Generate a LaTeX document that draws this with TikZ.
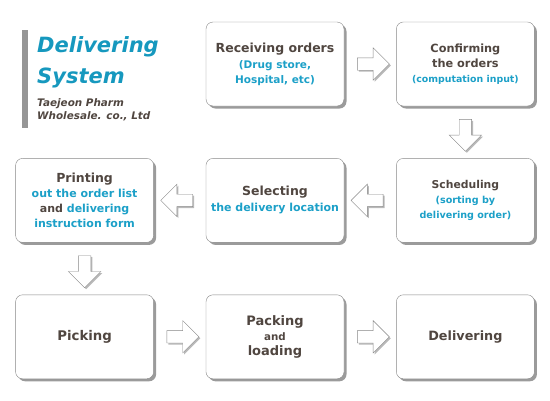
\documentclass[tikz,border=0pt]{standalone}
\usepackage{fontspec}
\setmainfont{DejaVu Sans}
\usetikzlibrary{positioning, calc, shapes.arrows, shadows}

\definecolor{txtbrown}{RGB}{80,70,64}
\definecolor{txtblue}{RGB}{28,160,200}
\definecolor{titleblue}{RGB}{22,152,190}
\definecolor{boxgray}{RGB}{135,135,135}
\definecolor{shadowgray}{RGB}{155,155,155}
\definecolor{bargray}{RGB}{150,150,150}

\newcommand{\bigtxt}{\fontsize{12.5}{15}\selectfont}
\newcommand{\smalltxt}[1]{{\fontsize{10.5}{13}\selectfont\color{txtblue}#1}}

\tikzset{
  stepbox/.style={draw=boxgray, fill=white, rounded corners=7pt,
    minimum width=138pt, minimum height=84pt, align=center,
    text=txtbrown, font=\bfseries\bigtxt,
    drop shadow={shadow xshift=2.5pt, shadow yshift=-2.5pt, fill=shadowgray, opacity=1}},
  blockarr/.style={single arrow, draw=boxgray, fill=white, inner sep=6pt,
    minimum height=32pt, minimum width=32pt, single arrow head extend=10pt,
    drop shadow={shadow xshift=1.5pt, shadow yshift=-1.5pt, fill=shadowgray!70, opacity=1}}
}

\begin{document}
\begin{tikzpicture}[x=1pt, y=-1pt, node distance=52pt]
  \useasboundingbox (0,0) rectangle (550,400);
  % title
  \fill[bargray] (22,30) rectangle (28,128);
  \node[anchor=base west, inner sep=0, text=titleblue,
    font=\fontsize{21}{21}\selectfont\bfseries\itshape] (title1) at (37,52) {Delivering};
  \node[anchor=base west, inner sep=0, text=titleblue,
    font=\fontsize{21}{21}\selectfont\bfseries\itshape] (title2) at (37,83) {System};
  \node[anchor=base west, inner sep=0, text=txtbrown,
    font=\fontsize{10.4}{12}\selectfont\bfseries\itshape] (sub1) at (37,106) {Taejeon Pharm};
  \node[anchor=base west, inner sep=0, text=txtbrown,
    font=\fontsize{10.4}{12}\selectfont\bfseries\itshape] (sub2) at (37,119) {Wholesale. co., Ltd};

  % boxes
  \node[stepbox] (recv) at (275,64) {Receiving orders\\[1pt]
    \smalltxt{(Drug store,}\\ \smalltxt{Hospital, etc)}};
  \node[stepbox, right=of recv] (conf) {{\fontsize{11.3}{13.5}\selectfont Confirming}\\
    {\fontsize{11.3}{14}\selectfont the orders}\\
    {\fontsize{9.4}{12}\selectfont\color{txtblue}(computation input)}};
  \node[stepbox, below=of conf] (sched) {{\fontsize{10.8}{13}\selectfont Scheduling}\\
    {\fontsize{9.6}{12.5}\selectfont\color{txtblue}(sorting by}\\
    {\fontsize{9.6}{12.5}\selectfont\color{txtblue}delivering order)}};
  \node[stepbox, left=of sched] (sel) {Selecting\\[1pt]
    {\fontsize{11}{13}\selectfont\color{txtblue}the delivery location}};
  \node[stepbox, left=of sel] (print) {Printing\\
    {\fontsize{11}{15.5}\selectfont\color{txtblue}out the order list}\\
    {\fontsize{11}{15.5}\selectfont and \color{txtblue}delivering}\\
    {\fontsize{11}{13.5}\selectfont\color{txtblue}instruction form}};
  \node[stepbox, below=of print] (pick) {\fontsize{13.3}{15}\selectfont Picking};
  \node[stepbox, right=of pick] (pack) {{\fontsize{13}{15}\selectfont Packing}\\
    {\fontsize{10.3}{15}\selectfont and}\\
    {\fontsize{13}{15}\selectfont loading}};
  \node[stepbox, right=of pack] (deliv) {\fontsize{12.8}{15}\selectfont Delivering};

  % block arrows
  \node[blockarr] (a1) at ($(recv.east)!0.5!(conf.west)$) {};
  \node[blockarr, rotate=-90] (a2) at ($(conf.south)!0.5!(sched.north)$) {};
  \node[blockarr, rotate=180] (a3) at ($(sched.west)!0.5!(sel.east)$) {};
  \node[blockarr, rotate=180] (a4) at ($(sel.west)!0.5!(print.east)$) {};
  \node[blockarr, rotate=-90] (a5) at ($(print.south)!0.5!(pick.north)$) {};
  \node[blockarr] (a6) at ($(pick.east)!0.5!(pack.west)$) {};
  \node[blockarr] (a7) at ($(pack.east)!0.5!(deliv.west)$) {};
\end{tikzpicture}
\end{document}
